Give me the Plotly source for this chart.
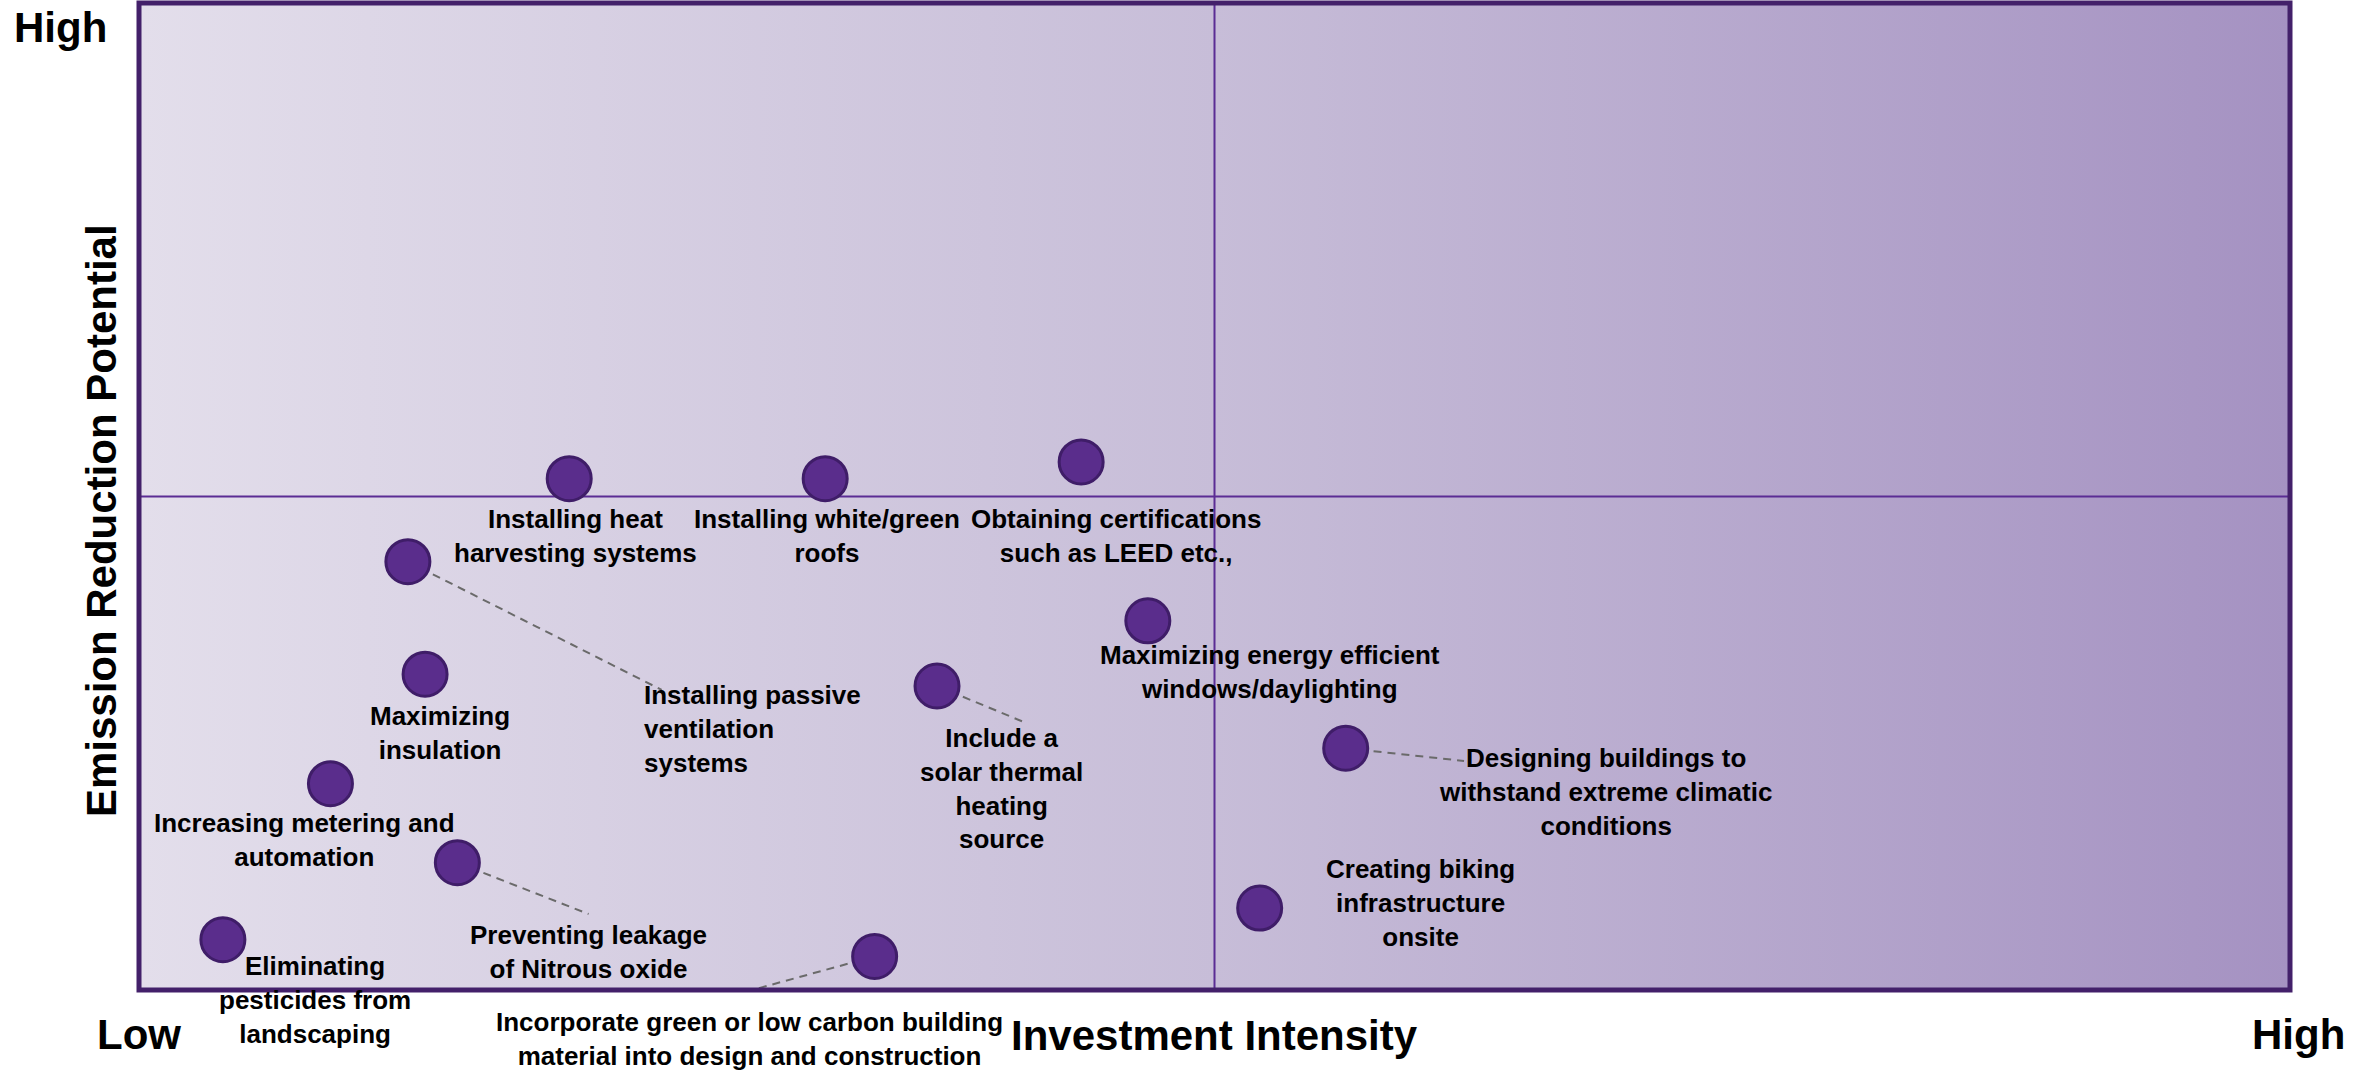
import plotly.graph_objects as go

# measures: x = investment intensity, y = emission reduction potential (0-10 scale)
measures = [
    "Installing heat<br>harvesting systems",
    "Installing white/green<br>roofs",
    "Obtaining certifications<br>such as LEED etc.,",
    "Installing passive<br>ventilation<br>systems",
    "Maximizing<br>insulation",
    "Increasing metering and<br>automation",
    "Preventing leakage<br>of Nitrous oxide",
    "Eliminating<br>pesticides from<br>landscaping",
    "Incorporate green or low carbon building<br>material into design and construction",
    "Include a<br>solar thermal<br>heating<br>source",
    "Maximizing energy efficient<br>windows/daylighting",
    "Designing buildings to<br>withstand extreme climatic<br>conditions",
    "Creating biking<br>infrastructure<br>onsite",
]
investment = [2.00, 3.19, 4.38, 1.25, 1.33, 0.89, 1.48, 0.39, 3.42, 3.71, 4.69, 5.61, 5.21]
reduction = [5.18, 5.18, 5.35, 4.34, 3.20, 2.09, 1.29, 0.51, 0.34, 3.08, 3.74, 2.45, 0.83]

# label placement (same units as the axes)
label_x = [2.03, 3.20, 4.54, 2.34, 1.40, 0.77, 2.09, 0.82, 2.84, 4.01, 5.26, 6.82, 5.96]
label_y = [4.60, 4.60, 4.60, 2.64, 2.60, 1.52, 0.38, -0.10, -0.50, 2.04, 3.22, 2.01, 0.88]
label_anchor = ["center", "center", "center", "left", "center", "center", "center",
                "center", "center", "center", "center", "center", "center"]

# dashed leader lines: index of measure -> end point
leader_idx = [3, 6, 8, 9, 11]
leader_end_x = [2.43, 2.09, 2.85, 4.13, 6.16]
leader_end_y = [3.04, 0.77, 0.00, 2.70, 2.32]

x_range = [0, 10]
y_range = [0, 10]
mid_x = (x_range[0] + x_range[1]) / 2
mid_y = (y_range[0] + y_range[1]) / 2

font_family = "Liberation Sans, Arial, sans-serif"

fig = go.Figure()

# gradient background
fig.add_trace(go.Scatter(
    x=[x_range[0], x_range[1], x_range[1], x_range[0]],
    y=[y_range[0], y_range[0], y_range[1], y_range[1]],
    fill="toself", mode="none", hoverinfo="skip", showlegend=False,
    fillgradient=dict(type="horizontal",
                      colorscale=[[0, "#e3deeb"], [0.5, "#c7bdd8"], [1, "#a592c2"]]),
))

# quadrant lines
fig.add_trace(go.Scatter(x=[mid_x, mid_x], y=y_range, mode="lines",
                         line=dict(color="#5b2c94", width=2), hoverinfo="skip", showlegend=False))
fig.add_trace(go.Scatter(x=x_range, y=[mid_y, mid_y], mode="lines",
                         line=dict(color="#5b2c94", width=2), hoverinfo="skip", showlegend=False))

# leader lines
for i, ex, ey in zip(leader_idx, leader_end_x, leader_end_y):
    fig.add_trace(go.Scatter(x=[investment[i], ex], y=[reduction[i], ey], mode="lines",
                             line=dict(color="#6a6a6a", width=2, dash="8px,6px"),
                             hoverinfo="skip", showlegend=False))

# points
fig.add_trace(go.Scatter(
    x=investment, y=reduction, mode="markers", text=measures, hoverinfo="text",
    marker=dict(size=44, color="#5a2d8c", line=dict(color="#3f1d68", width=3)),
    showlegend=False, cliponaxis=False,
))

label_font = dict(family=font_family, size=26, color="black", weight="bold")
for txt, lx, ly, anc in zip(measures, label_x, label_y, label_anchor):
    fig.add_annotation(
        x=(lx - x_range[0]) / (x_range[1] - x_range[0]),
        y=(ly - y_range[0]) / (y_range[1] - y_range[0]),
        xref="paper", yref="paper", text=txt, showarrow=False,
        xanchor=anc, yanchor="middle", align=anc, font=label_font,
    )

big_font = dict(family=font_family, size=42, color="black", weight="bold")
fig.add_annotation(x=-0.0367, y=0.975, xref="paper", yref="paper", text="High",
                   showarrow=False, font=big_font, xanchor="center", yanchor="middle")
fig.add_annotation(x=0.0, y=-0.045, xref="paper", yref="paper", text="Low",
                   showarrow=False, font=big_font, xanchor="center", yanchor="middle")
fig.add_annotation(x=1.004, y=-0.045, xref="paper", yref="paper", text="High",
                   showarrow=False, font=big_font, xanchor="center", yanchor="middle")
fig.add_annotation(x=0.5, y=-0.046, xref="paper", yref="paper", text="Investment Intensity",
                   showarrow=False, font=big_font, xanchor="center", yanchor="middle")
fig.add_annotation(x=-0.0177, y=0.476, xref="paper", yref="paper",
                   text="Emission Reduction Potential", textangle=-90,
                   showarrow=False, font=big_font, xanchor="center", yanchor="middle")

# plot border
fig.add_shape(type="rect", xref="paper", yref="paper", x0=0, y0=0, x1=1, y1=1,
              line=dict(color="#43206a", width=5), fillcolor="rgba(0,0,0,0)", layer="above")

fig.update_xaxes(range=x_range, showgrid=False, zeroline=False, showticklabels=False,
                 ticks="", fixedrange=True)
fig.update_yaxes(range=y_range, showgrid=False, zeroline=False, showticklabels=False,
                 ticks="", fixedrange=True)
fig.update_layout(
    width=2372, height=1073,
    margin=dict(l=139, r=82, t=3, b=83),
    paper_bgcolor="white", plot_bgcolor="white",
    font=dict(family=font_family),
)

fig.write_html("out.html", config={"displayModeBar": False},
               post_script="document.body.style.margin='0';")
